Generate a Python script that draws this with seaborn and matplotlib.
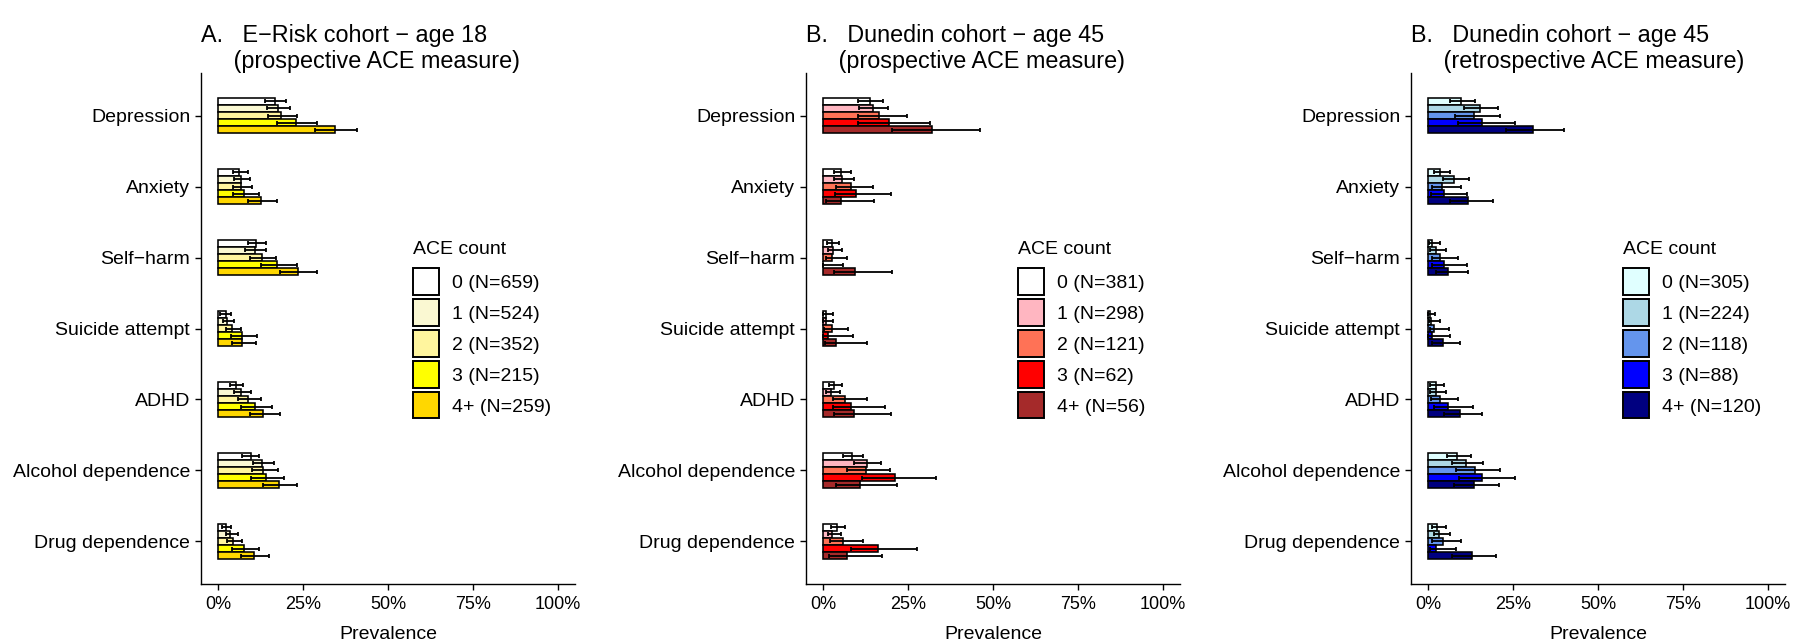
import numpy as np
import pandas as pd
import matplotlib
matplotlib.use("Agg")
import matplotlib.pyplot as plt
import seaborn as sns
from matplotlib.ticker import FixedLocator, FuncFormatter

# ---------------------------------------------------------------- data
outcomes = ["Depression", "Anxiety", "Self\u2212harm", "Suicide attempt",
            "ADHD", "Alcohol dependence", "Drug dependence"]
ace_levels = ["0", "1", "2", "3", "4+"]
x_ticks = [0, 25, 50, 75, 100]

# E-Risk, age 18, prospective ACE measure (rows: ACE 0,1,2,3,4+; cols: outcomes)
erisk_n = [659, 524, 352, 215, 259]
erisk_prev = [
    [16.7, 6.2, 11.3, 2.3, 5.2, 9.6, 2.3],
    [17.7, 6.7, 10.8, 2.7, 6.9, 13.0, 3.6],
    [18.6, 6.9, 12.9, 4.1, 8.9, 13.3, 4.4],
    [22.9, 7.6, 17.3, 7.1, 10.8, 14.1, 7.6],
    [34.5, 12.5, 23.4, 7.1, 13.3, 17.9, 10.5],
]
erisk_lo = [
    [13.8, 4.4, 8.8, 0.5, 3.6, 7.2, 1.2],
    [14.3, 4.7, 8.0, 1.5, 4.7, 10.3, 2.3],
    [14.6, 4.4, 9.5, 2.3, 5.9, 10.0, 2.5],
    [17.4, 4.4, 12.5, 3.9, 6.9, 9.6, 4.2],
    [28.5, 8.7, 18.2, 4.2, 9.3, 13.3, 6.9],
]
erisk_hi = [
    [19.9, 8.7, 14.0, 3.7, 7.4, 12.1, 3.7],
    [21.1, 9.5, 14.0, 4.6, 9.6, 16.4, 5.9],
    [23.3, 10.1, 17.0, 6.9, 12.5, 17.5, 7.2],
    [29.2, 12.1, 23.1, 11.5, 15.9, 19.4, 12.1],
    [40.8, 17.4, 29.0, 11.1, 18.2, 23.1, 15.0],
]

# Dunedin, age 45, prospective ACE measure
dpro_n = [381, 298, 121, 62, 56]
dpro_prev = [
    [13.8, 5.2, 2.5, 1.0, 3.2, 8.5, 4.1],
    [14.6, 5.7, 2.9, 1.0, 2.3, 12.8, 2.7],
    [16.5, 8.2, 2.5, 2.5, 6.6, 12.5, 5.9],
    [19.4, 9.6, 0.0, 1.5, 8.2, 21.1, 16.2],
    [32.2, 5.2, 9.3, 3.7, 9.1, 10.8, 7.2],
]
dpro_lo = [
    [10.3, 3.2, 1.3, 0.0, 1.7, 5.9, 2.3],
    [10.6, 3.2, 1.5, 0.0, 1.0, 9.1, 1.5],
    [10.3, 3.9, 0.8, 0.4, 2.9, 7.1, 2.2],
    [10.3, 3.6, 0.0, 0.0, 2.8, 11.6, 8.1],
    [20.3, 1.0, 3.2, 0.5, 3.2, 3.9, 1.8],
]
dpro_hi = [
    [17.7, 8.2, 4.7, 2.8, 5.6, 11.8, 6.4],
    [19.2, 9.1, 5.7, 2.9, 4.9, 17.2, 5.2],
    [24.6, 14.7, 7.2, 7.4, 12.8, 19.7, 11.8],
    [31.6, 19.9, 5.9, 8.8, 18.2, 33.2, 27.7],
    [46.2, 15.0, 20.3, 12.8, 19.9, 21.9, 17.4],
]

# Dunedin, age 45, retrospective ACE measure
dretro_n = [305, 224, 118, 88, 120]
dretro_prev = [
    [9.8, 3.6, 1.3, 0.7, 2.3, 8.5, 2.7],
    [15.2, 7.7, 2.3, 1.0, 2.3, 11.3, 3.2],
    [13.5, 4.2, 3.4, 1.7, 3.6, 13.8, 4.4],
    [15.9, 4.7, 4.6, 1.3, 5.9, 16.0, 2.3],
    [30.9, 11.8, 5.9, 4.4, 9.3, 13.5, 12.8],
]
dretro_lo = [
    [6.6, 1.8, 0.3, 0.0, 0.7, 5.7, 1.2],
    [10.6, 4.4, 0.7, 0.2, 0.7, 7.2, 1.7],
    [7.9, 1.3, 1.3, 0.5, 1.0, 8.1, 1.3],
    [8.8, 1.0, 1.3, 0.0, 1.8, 9.0, 0.5],
    [22.8, 6.4, 2.3, 1.3, 4.7, 7.7, 7.1],
]
dretro_hi = [
    [13.8, 6.6, 3.6, 2.1, 4.7, 12.5, 5.2],
    [20.6, 12.1, 5.4, 3.4, 5.2, 16.2, 6.6],
    [21.1, 9.8, 8.7, 6.2, 8.7, 21.3, 9.8],
    [25.5, 11.6, 11.6, 6.6, 13.3, 25.5, 8.2],
    [40.0, 19.0, 11.8, 9.5, 16.0, 20.9, 19.9],
]

erisk_colors = ["#FFFFFF", "#FAF8D2", "#FFF59E", "#FFFF00", "#FFD700"]
dpro_colors = ["#FFFFFF", "#FFB6C1", "#FF7256", "#FF0000", "#A52A2A"]
dretro_colors = ["#E0FFFF", "#ADD8E6", "#6495ED", "#0000FF", "#000080"]

titles = [
    "A.   E\u2212Risk cohort \u2212 age 18\n     (prospective ACE measure)",
    "B.   Dunedin cohort \u2212 age 45\n     (prospective ACE measure)",
    "B.   Dunedin cohort \u2212 age 45\n     (retrospective ACE measure)",
]

panels = [
    (erisk_n, erisk_prev, erisk_lo, erisk_hi, erisk_colors),
    (dpro_n, dpro_prev, dpro_lo, dpro_hi, dpro_colors),
    (dretro_n, dretro_prev, dretro_lo, dretro_hi, dretro_colors),
]

# ---------------------------------------------------------------- style
sns.set_theme(style="ticks")
plt.rcParams["font.family"] = ["Liberation Sans", "DejaVu Sans"]
plt.rcParams["axes.linewidth"] = 1.0
plt.rcParams["text.color"] = "black"
plt.rcParams["axes.labelcolor"] = "black"
plt.rcParams["axes.titlecolor"] = "black"
plt.rcParams["axes.edgecolor"] = "black"
plt.rcParams["xtick.color"] = "black"
plt.rcParams["ytick.color"] = "black"

W, H = 1796, 642
fig = plt.figure(figsize=(W / 100, H / 100), dpi=100)

ax_lefts = [201, 806, 1411]
ax_w = 374
ax_top, ax_bot = 73, 584

for (n, prev, lo, hi, colors), title, left in zip(panels, titles, ax_lefts):
    ax = fig.add_axes([left / W, (H - ax_bot) / H, ax_w / W, (ax_bot - ax_top) / H])

    labels = [f"{lvl} (N={k})" for lvl, k in zip(ace_levels, n)]
    rows = []
    for i, lab in enumerate(labels):
        for j, out in enumerate(outcomes):
            rows.append({"outcome": out, "ace": lab, "prev": prev[i][j],
                         "lo": lo[i][j], "hi": hi[i][j]})
    df = pd.DataFrame(rows)

    sns.barplot(data=df, x="prev", y="outcome", hue="ace", order=outcomes,
                hue_order=labels, palette=colors, orient="h", width=0.5,
                saturation=1, errorbar=None, edgecolor="black", linewidth=1.15,
                ax=ax, zorder=2)

    # confidence intervals on each bar
    for lab, cont in zip(labels, ax.containers):
        sub = df[df["ace"] == lab].set_index("outcome").loc[outcomes]
        ys = [b.get_y() + b.get_height() / 2 for b in cont.patches]
        ax.errorbar(sub["prev"].values, ys,
                    xerr=[sub["prev"].values - sub["lo"].values,
                          sub["hi"].values - sub["prev"].values],
                    fmt="none", ecolor="black", elinewidth=1.3,
                    capsize=1.4, capthick=1.3, zorder=3)

    ax.set_xlim(-5, 105)
    ax.set_ylim(len(outcomes) - 0.4, -0.6)
    ax.xaxis.set_major_locator(FixedLocator(x_ticks))
    ax.xaxis.set_major_formatter(FuncFormatter(lambda v, p: f"{v:.0f}%"))
    ax.tick_params(axis="x", labelsize=13, length=4.3, width=1.0, pad=4)
    ax.tick_params(axis="y", labelsize=14, length=4.3, width=1.0, pad=3.5)
    ax.set_xlabel("Prevalence", fontsize=14, labelpad=9.5)
    ax.set_ylabel("")
    sns.despine(ax=ax)

    ax.set_title(title, loc="left", fontsize=16.8, pad=3, linespacing=1.15)

    # legend rebuilt from the seaborn hue handles
    old = ax.get_legend()
    handles = list(old.legend_handles)
    old.remove()
    leg = ax.legend(handles, labels, loc="upper left",
                    bbox_to_anchor=(0.566, 0.671), frameon=False,
                    title="ACE count", fontsize=14, title_fontsize=14,
                    handlelength=1.357, handleheight=1.711,
                    labelspacing=0.237, handletextpad=0.67, borderpad=0,
                    borderaxespad=0, alignment="left")
    for h in leg.legend_handles:
        h.set_linewidth(1.4)
        h.set_edgecolor("black")
    # more room between the legend title and the first key
    leg._legend_box.sep = 7.2

fig.savefig("out.png", dpi=100)
